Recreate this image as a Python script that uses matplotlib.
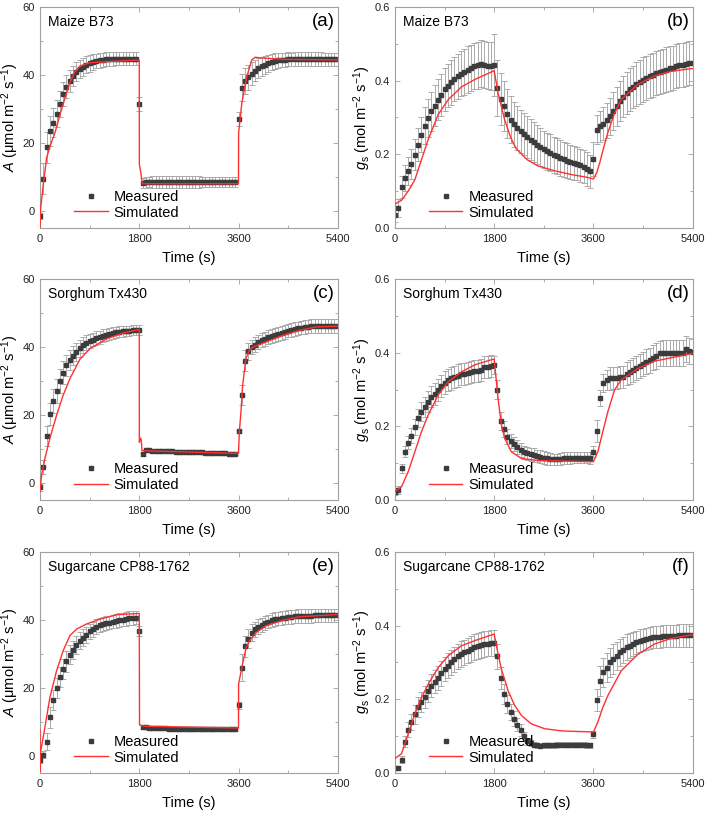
import matplotlib
matplotlib.use("Agg")
import matplotlib.pyplot as plt
from matplotlib.ticker import MultipleLocator
import numpy as np

plt.rcParams['font.family'] = ['Liberation Sans', 'DejaVu Sans']
plt.rcParams['mathtext.fontset'] = 'custom'
plt.rcParams['mathtext.rm'] = 'Liberation Sans'
plt.rcParams['mathtext.it'] = 'Liberation Sans:italic'

# measured every 60 s from 0 to 5400 s
t_meas = np.arange(0, 5401, 60)

# ---- Maize B73 ----
a_maize = [-1.5, 9.5, 18.7, 23.4, 26.0, 28.6, 31.5, 34.4, 36.6, 38.3, 39.7, 41.0, 41.7, 42.4, 43.0,
           43.4, 43.8, 44.1, 44.3, 44.5, 44.6, 44.7, 44.7, 44.8, 44.8, 44.8, 44.8, 44.8, 44.8, 44.8,
           31.5,
           8.2, 8.4, 8.5, 8.5, 8.5, 8.5, 8.5, 8.5, 8.5, 8.5, 8.5, 8.5, 8.5, 8.5, 8.5,
           8.5, 8.5, 8.5, 8.5, 8.5, 8.5, 8.5, 8.5, 8.5, 8.5, 8.5, 8.5, 8.5, 8.5,
           27.0,
           36.3, 38.2, 39.3, 40.3, 41.3, 42.0, 42.6, 43.0, 43.4, 43.8, 44.1, 44.3, 44.4, 44.5, 44.6,
           44.6, 44.7, 44.7, 44.7, 44.7, 44.7, 44.7, 44.7, 44.7, 44.7, 44.6, 44.6, 44.6, 44.6, 44.6]
a_maize_err = [1.0, 4.5, 4.6, 4.4, 4.2, 4.0, 3.8, 3.6, 3.4, 3.2, 3.0, 2.8, 2.7, 2.6, 2.5,
               2.4, 2.3, 2.2, 2.2, 2.1, 2.1, 2.0, 2.0, 2.0, 2.0, 2.0, 2.0, 2.0, 2.0, 2.0,
               2.0,
               1.5, 1.6, 1.6, 1.7, 1.7, 1.7, 1.7, 1.7, 1.7, 1.7, 1.7, 1.7, 1.7, 1.7, 1.7,
               1.7, 1.7, 1.7, 1.6, 1.6, 1.6, 1.6, 1.6, 1.5, 1.5, 1.5, 1.5, 1.5, 1.5,
               2.0,
               4.0, 3.8, 3.6, 3.4, 3.2, 3.0, 2.8, 2.6, 2.5, 2.4, 2.3, 2.2, 2.2, 2.1, 2.1,
               2.0, 2.0, 2.0, 2.0, 2.0, 2.0, 2.0, 2.0, 2.0, 2.0, 2.0, 2.0, 2.0, 2.0, 2.0]
a_maize_sim_t = [0, 10, 30, 60, 120, 181, 272, 362, 453, 543, 634, 724, 905, 1207, 1800,
                 1802, 1830, 1855, 3600, 3602, 3660, 3750, 3840, 3900, 4000, 4400, 5400]
a_maize_sim = [-4.9, 0.5, 3.4, 7.8, 15.6, 19.0, 23.0, 28.3, 33.2, 37.8, 41.0, 42.6, 43.6, 43.9, 44.4,
               13.7, 11.2, 8.0, 8.0, 23.0, 31.7, 39.5, 44.4, 45.2, 45.0, 44.6, 44.4]

gs_maize = [0.036, 0.054, 0.110, 0.136, 0.154, 0.174, 0.199, 0.226, 0.253, 0.278, 0.299, 0.317, 0.332, 0.348, 0.362,
            0.376, 0.386, 0.395, 0.404, 0.412, 0.419, 0.424, 0.430, 0.434, 0.439, 0.442, 0.446, 0.443, 0.441, 0.440,
            0.442,
            0.380, 0.350, 0.330, 0.310, 0.294, 0.281, 0.272, 0.262, 0.256, 0.247, 0.240, 0.233, 0.226, 0.220, 0.213,
            0.208, 0.204, 0.199, 0.195, 0.190, 0.186, 0.183, 0.179, 0.176, 0.174, 0.170, 0.166, 0.160, 0.154,
            0.187,
            0.267, 0.276, 0.283, 0.292, 0.303, 0.317, 0.330, 0.344, 0.356, 0.366, 0.376, 0.383, 0.391, 0.396, 0.403,
            0.407, 0.412, 0.416, 0.421, 0.424, 0.427, 0.430, 0.433, 0.435, 0.439, 0.442, 0.443, 0.445, 0.447, 0.448]
gs_maize_err = [0.020, 0.025, 0.030, 0.035, 0.038, 0.040, 0.042, 0.045, 0.048, 0.050, 0.052, 0.053, 0.055, 0.056, 0.057,
                0.058, 0.059, 0.060, 0.060, 0.061, 0.062, 0.062, 0.063, 0.063, 0.063, 0.064, 0.064, 0.064, 0.064, 0.065,
                0.085,
                0.075, 0.070, 0.068, 0.066, 0.064, 0.062, 0.060, 0.058, 0.057, 0.056, 0.055, 0.054, 0.053, 0.052, 0.051,
                0.050, 0.050, 0.049, 0.048, 0.048, 0.047, 0.047, 0.046, 0.046, 0.045, 0.045, 0.045, 0.045, 0.045,
                0.045,
                0.040, 0.042, 0.045, 0.048, 0.050, 0.052, 0.054, 0.055, 0.056, 0.057, 0.058, 0.058, 0.059, 0.059, 0.060,
                0.060, 0.060, 0.060, 0.060, 0.060, 0.060, 0.060, 0.060, 0.060, 0.060, 0.060, 0.060, 0.060, 0.060, 0.060]
gs_maize_sim_t = [0, 120, 241, 362, 483, 604, 785, 966, 1207, 1448, 1800,
                  1870, 1990, 2100, 2200, 2400, 2600, 2900, 3200, 3500, 3600,
                  3660, 3720, 3780, 3860, 3980, 4100, 4400, 4700, 5000, 5400]
gs_maize_sim = [0.065, 0.075, 0.100, 0.131, 0.186, 0.240, 0.308, 0.348, 0.383, 0.403, 0.427,
                0.366, 0.294, 0.245, 0.215, 0.185, 0.168, 0.155, 0.145, 0.137, 0.133,
                0.150, 0.180, 0.215, 0.258, 0.310, 0.348, 0.389, 0.412, 0.425, 0.433]

# ---- Sorghum Tx430 ----
a_sorg = [-1.3, 4.7, 13.9, 20.3, 24.1, 27.1, 30.0, 32.5, 34.6, 36.1, 37.4, 38.5, 39.7, 40.5, 41.2,
          41.7, 42.2, 42.6, 42.9, 43.3, 43.6, 43.9, 44.1, 44.3, 44.5, 44.6, 44.7, 44.8, 44.9, 45.0,
          45.1,
          8.4, 9.6, 9.6, 9.5, 9.5, 9.4, 9.4, 9.3, 9.3, 9.3, 9.2, 9.2, 9.2, 9.1, 9.1,
          9.1, 9.0, 9.0, 9.0, 8.9, 8.9, 8.9, 8.8, 8.8, 8.7, 8.7, 8.6, 8.5, 8.5,
          15.2,
          25.8, 36.0, 38.7, 40.0, 40.7, 41.4, 42.0, 42.4, 42.9, 43.3, 43.6, 43.9, 44.2, 44.5, 44.8,
          45.0, 45.3, 45.5, 45.7, 45.9, 46.0, 46.1, 46.2, 46.2, 46.2, 46.2, 46.2, 46.2, 46.2, 46.2]
a_sorg_err = [1.0, 2.0, 3.0, 3.3, 3.5, 3.5, 3.4, 3.3, 3.1, 3.0, 2.8, 2.6, 2.5, 2.3, 2.2,
              2.1, 2.0, 2.0, 1.9, 1.9, 1.8, 1.8, 1.7, 1.7, 1.6, 1.6, 1.6, 1.5, 1.5, 1.5,
              1.5,
              0.4, 0.4, 0.4, 0.4, 0.4, 0.4, 0.4, 0.4, 0.4, 0.4, 0.4, 0.4, 0.4, 0.4, 0.4,
              0.4, 0.4, 0.4, 0.4, 0.4, 0.4, 0.4, 0.4, 0.4, 0.4, 0.4, 0.4, 0.4, 0.4,
              0.5,
              3.0, 3.0, 2.5, 2.2, 2.1, 2.0, 2.0, 2.0, 2.0, 2.0, 2.0, 2.0, 2.0, 2.0, 2.0,
              2.0, 2.0, 2.0, 2.0, 2.0, 2.0, 2.0, 2.0, 2.0, 2.0, 2.0, 2.0, 2.0, 2.0, 2.0]
a_sorg_sim_t = [0, 30, 90, 181, 302, 422, 543, 724, 905, 1207, 1509, 1800,
                1802, 1820, 1835, 1850, 3600, 3615, 3645, 3675, 3735, 3795, 3862, 4103, 4405, 4707, 5008, 5400]
a_sorg_sim = [-2.4, 2.4, 7.3, 13.2, 20.0, 25.9, 30.7, 36.4, 39.5, 42.4, 44.1, 45.2,
              12.0, 13.2, 12.8, 9.5, 8.7, 15.1, 21.0, 28.8, 36.6, 39.0, 40.0, 41.5, 43.4, 44.9, 45.9, 46.1]

gs_sorg = [0.023, 0.027, 0.086, 0.131, 0.156, 0.175, 0.199, 0.222, 0.240, 0.253, 0.267, 0.281, 0.287, 0.299, 0.309,
           0.319, 0.326, 0.330, 0.335, 0.338, 0.341, 0.343, 0.346, 0.348, 0.350, 0.351, 0.353, 0.362, 0.362, 0.364,
           0.367,
           0.300, 0.214, 0.192, 0.172, 0.160, 0.151, 0.145, 0.136, 0.129, 0.127, 0.124, 0.122, 0.119, 0.118, 0.115,
           0.113, 0.111, 0.110, 0.110, 0.112, 0.113, 0.114, 0.114, 0.115, 0.115, 0.115, 0.115, 0.115, 0.114,
           0.131,
           0.187, 0.278, 0.317, 0.326, 0.330, 0.332, 0.332, 0.334, 0.334, 0.343, 0.347, 0.353, 0.359, 0.364, 0.370,
           0.376, 0.380, 0.386, 0.392, 0.398, 0.400, 0.400, 0.400, 0.400, 0.400, 0.400, 0.400, 0.409, 0.405, 0.403]
gs_sorg_err = [0.010, 0.010, 0.012, 0.015, 0.017, 0.020, 0.022, 0.024, 0.026, 0.027, 0.028, 0.029, 0.030, 0.030, 0.030,
               0.030, 0.030, 0.030, 0.030, 0.030, 0.030, 0.030, 0.030, 0.030, 0.030, 0.030, 0.030, 0.030, 0.030, 0.030,
               0.025,
               0.025, 0.025, 0.022, 0.020, 0.020, 0.019, 0.019, 0.018, 0.018, 0.018, 0.018, 0.018, 0.017, 0.017, 0.017,
               0.017, 0.017, 0.016, 0.016, 0.016, 0.016, 0.016, 0.016, 0.015, 0.015, 0.015, 0.015, 0.015, 0.015,
               0.015,
               0.030, 0.022, 0.025, 0.028, 0.030, 0.030, 0.030, 0.030, 0.031, 0.031, 0.032, 0.032, 0.033, 0.033, 0.033,
               0.034, 0.034, 0.034, 0.035, 0.035, 0.035, 0.035, 0.035, 0.035, 0.035, 0.035, 0.035, 0.035, 0.035, 0.035]
gs_sorg_sim_t = [0, 120, 241, 362, 483, 604, 785, 966, 1207, 1448, 1800,
                 1870, 1931, 1991, 2112, 2293, 2595, 3600,
                 3680, 3771, 3862, 3983, 4103, 4405, 4707, 5008, 5400]
gs_sorg_sim = [0.023, 0.036, 0.077, 0.131, 0.186, 0.231, 0.285, 0.321, 0.348, 0.367, 0.383,
               0.276, 0.204, 0.167, 0.131, 0.113, 0.107, 0.104,
               0.131, 0.186, 0.240, 0.299, 0.326, 0.357, 0.377, 0.386, 0.398]

# ---- Sugarcane CP88-1762 ----
a_cane = [-1.2, 0.3, 4.2, 11.3, 16.4, 20.0, 23.2, 25.6, 27.8, 29.7, 31.2, 32.7, 33.9, 34.7, 35.6,
          36.6, 37.3, 38.0, 38.4, 38.8, 39.0, 39.2, 39.5, 39.7, 39.9, 40.1, 40.3, 40.5, 40.6, 40.7,
          36.8,
          8.6, 8.4, 8.3, 8.2, 8.2, 8.1, 8.1, 8.1, 8.0, 8.0, 8.0, 8.0, 8.0, 7.9, 7.9,
          7.9, 7.9, 7.9, 7.9, 7.9, 7.8, 7.8, 7.8, 7.8, 7.8, 7.8, 7.8, 7.8, 7.8,
          14.9,
          25.9, 32.2, 34.4, 36.2, 37.2, 38.0, 38.5, 39.1, 39.5, 39.9, 40.2, 40.4, 40.6, 40.7, 40.8,
          40.9, 41.0, 41.1, 41.1, 41.2, 41.2, 41.2, 41.3, 41.3, 41.3, 41.3, 41.3, 41.3, 41.3, 41.3]
a_cane_err = [1.0, 1.0, 2.5, 3.0, 3.0, 3.0, 3.0, 3.0, 3.0, 2.8, 2.7, 2.6, 2.5, 2.5, 2.4,
              2.3, 2.2, 2.2, 2.1, 2.1, 2.0, 2.0, 2.0, 2.0, 2.0, 2.0, 2.0, 2.0, 2.0, 2.0,
              1.5,
              0.6, 0.6, 0.6, 0.6, 0.6, 0.6, 0.6, 0.6, 0.6, 0.6, 0.6, 0.6, 0.6, 0.6, 0.6,
              0.6, 0.6, 0.6, 0.6, 0.6, 0.6, 0.6, 0.6, 0.6, 0.6, 0.6, 0.6, 0.6, 0.6,
              1.0,
              4.0, 3.0, 2.8, 2.5, 2.3, 2.2, 2.1, 2.1, 2.0, 2.0, 2.0, 2.0, 2.0, 2.0, 2.0,
              2.0, 2.0, 2.0, 2.0, 2.0, 2.0, 2.0, 2.0, 2.0, 2.0, 2.0, 2.0, 2.0, 2.0, 2.0]
a_cane_sim_t = [0, 1, 10, 60, 181, 302, 422, 543, 664, 845, 1086, 1388, 1800,
                1805, 1900, 3600, 3602, 3680, 3741, 3801, 3922, 4103, 4405, 4707, 5310, 5400]
a_cane_sim = [7.5, -4.6, 1.2, 5.6, 17.3, 25.1, 31.0, 35.4, 37.3, 38.8, 40.2, 41.5, 41.9,
              9.1, 8.7, 8.2, 21.2, 27.6, 32.0, 33.9, 36.3, 38.3, 39.9, 40.9, 41.5, 41.6]

gs_cane = [0.014, 0.013, 0.036, 0.084, 0.117, 0.138, 0.159, 0.178, 0.192, 0.207, 0.223, 0.237, 0.248, 0.258, 0.270,
           0.282, 0.291, 0.300, 0.309, 0.316, 0.323, 0.327, 0.332, 0.336, 0.341, 0.345, 0.348, 0.350, 0.351, 0.352,
           0.353,
           0.316, 0.257, 0.214, 0.187, 0.165, 0.147, 0.131, 0.117, 0.099, 0.086, 0.081, 0.077, 0.075, 0.074, 0.075,
           0.075, 0.075, 0.075, 0.076, 0.076, 0.076, 0.076, 0.076, 0.076, 0.076, 0.076, 0.076, 0.075, 0.075,
           0.105,
           0.198, 0.250, 0.273, 0.286, 0.300, 0.309, 0.318, 0.327, 0.333, 0.341, 0.345, 0.350, 0.354, 0.359, 0.361,
           0.364, 0.366, 0.368, 0.369, 0.370, 0.371, 0.371, 0.372, 0.372, 0.372, 0.373, 0.373, 0.373, 0.373, 0.373]
gs_cane_err = [0.005, 0.005, 0.010, 0.015, 0.020, 0.022, 0.025, 0.027, 0.028, 0.030, 0.030, 0.031, 0.032, 0.032, 0.033,
               0.033, 0.034, 0.034, 0.034, 0.035, 0.035, 0.035, 0.035, 0.035, 0.035, 0.035, 0.035, 0.035, 0.035, 0.035,
               0.035,
               0.035, 0.030, 0.028, 0.025, 0.022, 0.020, 0.018, 0.016, 0.012, 0.010, 0.008, 0.007, 0.007, 0.007, 0.007,
               0.007, 0.007, 0.007, 0.007, 0.007, 0.007, 0.007, 0.007, 0.007, 0.007, 0.007, 0.007, 0.007, 0.007,
               0.010,
               0.030, 0.040, 0.040, 0.040, 0.040, 0.040, 0.038, 0.037, 0.036, 0.035, 0.034, 0.033, 0.032, 0.031, 0.030,
               0.030, 0.030, 0.030, 0.030, 0.030, 0.030, 0.030, 0.030, 0.030, 0.030, 0.030, 0.030, 0.030, 0.030, 0.030]
gs_cane_sim_t = [0, 120, 181, 272, 362, 483, 604, 785, 966, 1207, 1448, 1800,
                 1870, 1931, 2052, 2172, 2293, 2474, 2715, 3017, 3600,
                 3680, 3771, 3862, 4103, 4405, 4707, 5008, 5400]
gs_cane_sim = [0.039, 0.052, 0.079, 0.120, 0.160, 0.205, 0.241, 0.286, 0.318, 0.345, 0.359, 0.377,
               0.323, 0.282, 0.223, 0.183, 0.156, 0.133, 0.120, 0.114, 0.111,
               0.138, 0.178, 0.210, 0.277, 0.322, 0.350, 0.365, 0.375]

panels = [
    ("Maize B73", "(a)", "A", a_maize, a_maize_err, a_maize_sim_t, a_maize_sim),
    ("Maize B73", "(b)", "gs", gs_maize, gs_maize_err, gs_maize_sim_t, gs_maize_sim),
    ("Sorghum Tx430", "(c)", "A", a_sorg, a_sorg_err, a_sorg_sim_t, a_sorg_sim),
    ("Sorghum Tx430", "(d)", "gs", gs_sorg, gs_sorg_err, gs_sorg_sim_t, gs_sorg_sim),
    ("Sugarcane CP88-1762", "(e)", "A", a_cane, a_cane_err, a_cane_sim_t, a_cane_sim),
    ("Sugarcane CP88-1762", "(f)", "gs", gs_cane, gs_cane_err, gs_cane_sim_t, gs_cane_sim),
]

fig = plt.figure(figsize=(7.09, 8.17), dpi=100)
lefts = [0.0564, 0.557]
bottoms = [0.721, 0.388, 0.054]
w, h = 0.420, 0.2705
spine_col = '#a0a0a0'

for i, (name, tag, kind, y, yerr, st, sy) in enumerate(panels):
    ax = fig.add_axes([lefts[i % 2], bottoms[i // 2], w, h])
    ax.errorbar(t_meas, y, yerr=yerr, fmt='none', ecolor='#ababab', elinewidth=0.7,
                capsize=2.3, capthick=0.7, zorder=1)
    ax.plot(t_meas, y, 's', color='#3c3c3c', markersize=3.0, label='Measured', zorder=2)
    ax.plot(st, sy, '-', color='#ff3030', lw=1.0, label='Simulated', zorder=3)

    ax.set_xlim(0, 5400)
    ax.set_xticks([0, 1800, 3600, 5400])
    ax.xaxis.set_minor_locator(MultipleLocator(900))
    if kind == "A":
        ax.set_ylim(-5, 60)
        ax.yaxis.set_major_locator(MultipleLocator(20))
        ax.yaxis.set_minor_locator(MultipleLocator(10))
        ax.set_ylabel('$A$ (\u03bcmol m$^{-2}$ s$^{-1}$)', fontsize=10.5, labelpad=1)
    else:
        ax.set_ylim(0, 0.6)
        ax.yaxis.set_major_locator(MultipleLocator(0.2))
        ax.yaxis.set_minor_locator(MultipleLocator(0.1))
        ax.set_ylabel('$g_\\mathrm{s}$ (mol m$^{-2}$ s$^{-1}$)', fontsize=10.5, labelpad=1)
    ax.set_xlabel('Time (s)', fontsize=10.5, labelpad=5)

    ax.tick_params(which='both', direction='in', top=True, right=True, color=spine_col,
                   labelsize=8, labelcolor='#222222')
    ax.tick_params(axis='x', which='major', pad=4.5)
    ax.tick_params(which='major', length=3.5, width=0.6)
    ax.tick_params(which='minor', length=2, width=0.6)
    for sp in ax.spines.values():
        sp.set_color(spine_col)
        sp.set_linewidth(0.8)

    ax.text(0.028, 0.93, name, transform=ax.transAxes, fontsize=10, va='center', ha='left')
    ax.text(0.99, 0.935, tag, transform=ax.transAxes, fontsize=13.5, va='center', ha='right')
    ax.legend(loc='lower left', bbox_to_anchor=(0.075, -0.015), frameon=False, fontsize=10.5,
              handlelength=2.3, handletextpad=0.4, labelspacing=0.1, borderpad=0.3)

fig.savefig('out.png', dpi=100)
